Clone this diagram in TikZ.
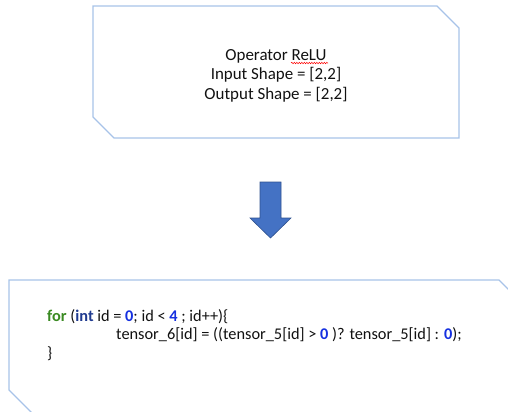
\documentclass[tikz,border=0pt]{standalone}
\usepackage{fontspec}
\setmainfont{Carlito}
\usetikzlibrary{decorations.pathmorphing}
\definecolor{boxline}{HTML}{A7C3E8}
\definecolor{arrfill}{HTML}{4472C4}
\definecolor{arrline}{HTML}{2F528F}
\definecolor{kwgreen}{HTML}{3A8A22}
\definecolor{kwblue}{HTML}{1F3A8F}
\definecolor{numblue}{HTML}{1530E0}
\definecolor{txt}{HTML}{111111}
\tikzset{
  snipbox/.style={draw=boxline, line width=1.3bp, line join=miter},
  label/.style={text=txt, font=\fontsize{17}{19.5}\selectfont, inner sep=0pt, anchor=base},
  code/.style={text=txt, font=\fontsize{16.4}{18.5}\selectfont, inner sep=0pt, anchor=base west},
  blockarrow/.style={fill=arrfill, draw=arrline, line width=0.6bp, line join=miter},
}
\newcommand{\kwf}[1]{\textcolor{kwgreen}{\bfseries #1}}
\newcommand{\kwi}[1]{\textcolor{kwblue}{\bfseries #1}}
\newcommand{\num}[1]{\textcolor{numblue}{\bfseries #1}}
\begin{document}
\begin{tikzpicture}[x=1bp,y=-1bp]
\useasboundingbox (0,0) rectangle (508,411);
% top box
\draw[snipbox] (93,6) -- (437,6) -- (459,28) -- (459,138) -- (114,138) -- (93,117) -- cycle;
\node[label] (l1) at (276,60) {Operator ReLU};
\node[label] (l2) at (276,79.5) {Input Shape = [2,2]};
\node[label] (l3) at (276,99) {Output Shape = [2,2]};
\draw[red, line width=0.5bp, decorate, decoration={snake, amplitude=0.7bp, segment length=2.5bp}] (291,63) -- (328,63);
% block arrow
\path[blockarrow] (260,182) -- (281,182) -- (281,218) -- (291,218) -- (270.5,238) -- (250,218) -- (260,218) -- cycle;
% bottom box
\draw[snipbox] (9,280) -- (499,280) -- (521,302) -- (521,420) -- (39,420) -- (9,390) -- cycle;
\node[code] (c1) at (47,321) {\kwf{for} (\kwi{int} id = \num{0}; id < \num{4} ; id++)\{};
\node[code] (c2) at (116,339.5) {tensor\_6[id] = ((tensor\_5[id] > \num{0} )? tensor\_5[id] : \num{0});};
\node[code] (c3) at (47,358) {\}};
\end{tikzpicture}
\end{document}
